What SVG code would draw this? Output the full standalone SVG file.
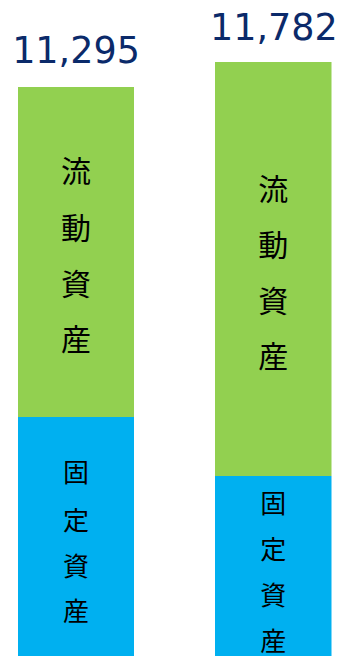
<svg xmlns="http://www.w3.org/2000/svg" width="339" height="656" viewBox="0 0 339 656">
<style>
.num{font-family:"DejaVu Sans",Verdana,sans-serif;font-size:36.5px;fill:#0B2A6A;text-anchor:middle}
.cur{fill:#92D050}
.fix{fill:#00B0F0}
.lbl{font-family:"Noto Sans CJK JP",sans-serif;fill:#000;text-anchor:middle;dominant-baseline:central}
.big{font-size:30px}
.sm{font-size:26px}
</style>
<rect width="339" height="656" fill="#fff"/>
<g id="bar1">
<rect class="cur" x="18" y="87" width="116" height="330"/>
<rect class="fix" x="18" y="417" width="116" height="239"/>
<text class="num" x="76" y="63">11,295</text>
<text class="lbl big" x="76" y="169">流</text>
<text class="lbl big" x="76" y="226">動</text>
<text class="lbl big" x="76" y="282">資</text>
<text class="lbl big" x="76" y="337">産</text>
<text class="lbl sm" x="76" y="470.5">固</text>
<text class="lbl sm" x="76" y="518">定</text>
<text class="lbl sm" x="76" y="564">資</text>
<text class="lbl sm" x="76" y="609">産</text>
</g>
<g id="bar2">
<rect class="cur" x="215" y="62" width="116.5" height="414"/>
<rect class="fix" x="215" y="476" width="116.5" height="180"/>
<text class="num" x="273.8" y="40">11,782</text>
<text class="lbl big" x="273.3" y="187">流</text>
<text class="lbl big" x="273.3" y="242.5">動</text>
<text class="lbl big" x="273.3" y="298.7">資</text>
<text class="lbl big" x="273.3" y="354">産</text>
<text class="lbl sm" x="273.3" y="501.7">固</text>
<text class="lbl sm" x="273.3" y="547.5">定</text>
<text class="lbl sm" x="273.3" y="593.3">資</text>
<text class="lbl sm" x="273.3" y="639">産</text>
</g>
<g id="connectors"></g>
</svg>
